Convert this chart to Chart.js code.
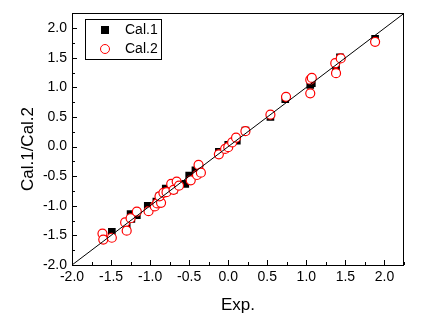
<!DOCTYPE html>
<html>
<head>
<meta charset="utf-8">
<script src="https://cdn.jsdelivr.net/npm/chart.js@4/dist/chart.umd.min.js"></script>
<style>
  html, body { margin: 0; padding: 0; background: #fff; }
  #chart { display: block; }
</style>
</head>
<body>
<canvas id="chart" width="432" height="325"></canvas>
<script>
// Cal.1 (black squares)
const cal1X = [-1.60, -1.49, -1.30, -1.25, -1.24, -1.17, -1.03, -0.92, -0.88, -0.80, -0.70, -0.65, -0.55, -0.50, -0.42, -0.37, -0.12, 0.00, 0.11, 0.22, 0.54, 0.73, 1.05, 1.07, 1.38, 1.43, 1.88];
const cal1Y = [-1.55, -1.44, -1.33, -1.14, -1.22, -1.16, -1.00, -0.93, -0.84, -0.71, -0.73, -0.66, -0.63, -0.49, -0.40, -0.37, -0.09, 0.03, 0.10, 0.27, 0.50, 0.80, 1.04, 1.07, 1.35, 1.51, 1.82];

// Cal.2 (red open circles)
const cal2X = [-1.61, -1.60, -1.49, -1.32, -1.30, -1.25, -1.17, -1.02, -0.94, -0.91, -0.86, -0.88, -0.83, -0.79, -0.73, -0.70, -0.66, -0.63, -0.48, -0.40, -0.38, -0.35, -0.12, -0.04, 0.00, 0.05, 0.10, 0.22, 0.54, 0.74, 1.05, 1.07, 1.05, 1.37, 1.38, 1.44, 1.88];
const cal2Y = [-1.47, -1.57, -1.54, -1.28, -1.42, -1.21, -1.10, -1.09, -1.01, -0.96, -0.95, -0.84, -0.78, -0.77, -0.63, -0.73, -0.59, -0.66, -0.57, -0.48, -0.31, -0.44, -0.13, -0.04, -0.01, 0.07, 0.15, 0.26, 0.54, 0.84, 1.13, 1.16, 0.90, 1.41, 1.24, 1.49, 1.77];

const majorTicks = [-2.0, -1.5, -1.0, -0.5, 0.0, 0.5, 1.0, 1.5, 2.0];
const axisMin = -2.0;
const axisMax = 2.25;
const seriesNames = ['Cal.1', 'Cal.2'];

const fontFamily = '"Liberation Sans", Arial, sans-serif';

function toPoints(xs, ys) {
    return xs.map((x, i) => ({ x: x, y: ys[i] }));
}

// frame, inward ticks, axis titles and legend
const decorations = {
    id: 'decorations',
    afterDatasetsDraw(chart) {
        const ctx = chart.ctx;
        const area = chart.chartArea;
        const xs = chart.scales.x;
        const ys = chart.scales.y;
        ctx.save();
        ctx.strokeStyle = '#000';
        ctx.lineWidth = 1;
        ctx.strokeRect(Math.round(area.left) + 0.5, Math.round(area.top) + 0.5,
            Math.round(area.right - area.left) - 1, Math.round(area.bottom - area.top));

        ctx.beginPath();
        for (let v = axisMin; v <= axisMax + 1e-9; v += 0.25) {
            const major = Math.abs(v * 2 - Math.round(v * 2)) < 1e-6;
            const len = major ? 5 : 3;
            const px = Math.round(xs.getPixelForValue(v)) + 0.5;
            ctx.moveTo(px, area.bottom);
            ctx.lineTo(px, area.bottom - len);
            const py = Math.round(ys.getPixelForValue(v)) + 0.5;
            ctx.moveTo(area.left, py);
            ctx.lineTo(area.left + len, py);
        }
        ctx.stroke();

        // axis titles
        ctx.fillStyle = '#000';
        ctx.font = '17px ' + fontFamily;
        ctx.textAlign = 'center';
        ctx.textBaseline = 'alphabetic';
        ctx.fillText('Exp.', (area.left + area.right) / 2, 310);
        ctx.save();
        ctx.translate(33, 149);
        ctx.rotate(-Math.PI / 2);
        ctx.fillText('Cal.1/Cal.2', 0, 0);
        ctx.restore();

        // legend box
        ctx.strokeRect(85.5, 19.5, 76, 40);
        ctx.fillRect(101, 26, 8, 8);
        ctx.strokeStyle = '#ff0000';
        ctx.beginPath();
        ctx.arc(105, 49, 4.5, 0, Math.PI * 2);
        ctx.stroke();
        ctx.font = '14px ' + fontFamily;
        ctx.textAlign = 'left';
        ctx.textBaseline = 'middle';
        ctx.fillText(seriesNames[0], 125, 30.5);
        ctx.fillText(seriesNames[1], 125, 49.5);
        ctx.restore();
    }
};

const tickFont = { family: fontFamily, size: 14 };

new Chart(document.getElementById('chart'), {
    type: 'scatter',
    data: {
        datasets: [
            {
                label: 'y=x',
                type: 'line',
                data: [{ x: axisMin, y: axisMin }, { x: axisMax, y: axisMax }],
                borderColor: '#000',
                borderWidth: 1,
                pointRadius: 0,
                order: 0
            },
            {
                label: seriesNames[1],
                data: toPoints(cal2X, cal2Y),
                pointStyle: 'circle',
                pointRadius: 4.5,
                borderColor: '#ff0000',
                backgroundColor: '#ffffff',
                borderWidth: 1.2,
                order: 1
            },
            {
                label: seriesNames[0],
                data: toPoints(cal1X, cal1Y),
                pointStyle: 'rect',
                pointRadius: 5.4,
                borderColor: '#000',
                backgroundColor: '#000',
                borderWidth: 0,
                order: 2
            }
        ]
    },
    options: {
        responsive: false,
        animation: false,
        devicePixelRatio: 1,
        layout: { padding: { top: 8, right: 28, left: 0, bottom: 0 } },
        plugins: {
            legend: { display: false },
            tooltip: { enabled: false }
        },
        scales: {
            x: {
                type: 'linear',
                min: axisMin,
                max: axisMax,
                grid: { display: false, drawTicks: false },
                border: { display: false },
                afterBuildTicks: scale => { scale.ticks = majorTicks.map(v => ({ value: v })); },
                afterFit: scale => { scale.height = 60; },
                ticks: {
                    color: '#000',
                    font: tickFont,
                    padding: 4,
                    maxRotation: 0,
                    autoSkip: false,
                    callback: v => v.toFixed(1)
                }
            },
            y: {
                type: 'linear',
                min: axisMin,
                max: axisMax,
                grid: { display: false, drawTicks: false },
                border: { display: false },
                afterBuildTicks: scale => { scale.ticks = majorTicks.map(v => ({ value: v })); },
                afterFit: scale => { scale.width = 72; },
                ticks: {
                    color: '#000',
                    font: tickFont,
                    padding: 5,
                    autoSkip: false,
                    callback: v => v.toFixed(1)
                }
            }
        }
    },
    plugins: [decorations]
});
</script>
</body>
</html>
